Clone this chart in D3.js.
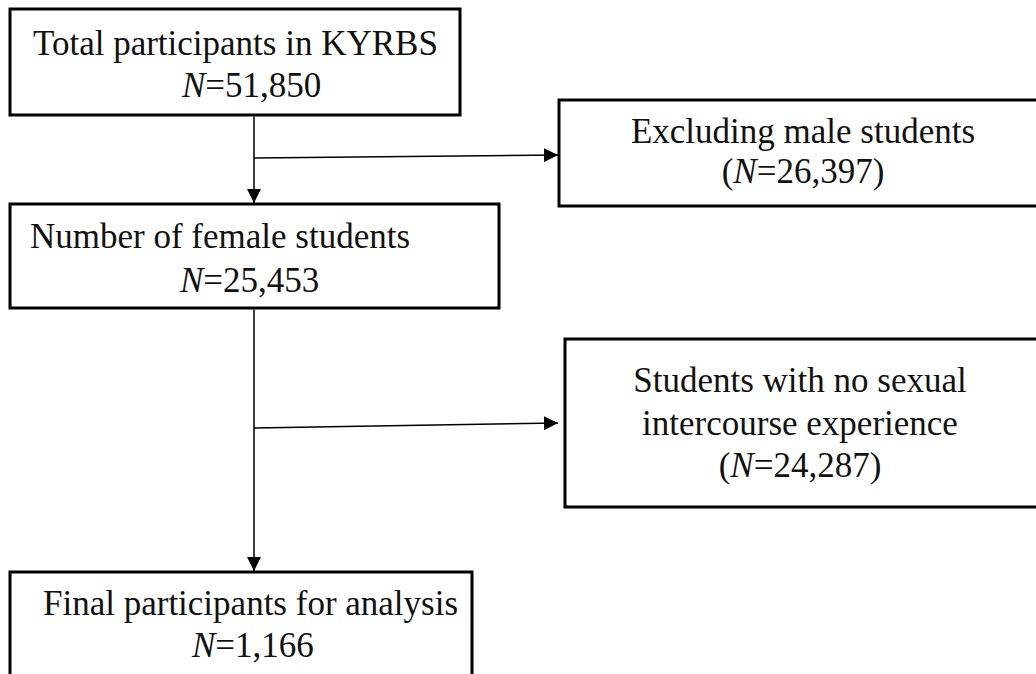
<!DOCTYPE html>
<html>
<head>
<meta charset="utf-8">
<script src="https://cdn.jsdelivr.net/npm/d3@7"></script>
<style>
  html, body { margin: 0; padding: 0; background: #fff; }
  svg { display: block; }
  text { font-family: "Liberation Serif", "Times New Roman", serif; font-size: 35px; fill: #111; }
</style>
</head>
<body>
<svg id="flow" width="1036" height="674"></svg>
<script>
// flow stages (left column)
const stageLabels = [
  'Total participants in KYRBS',
  'Number of female students',
  'Final participants for analysis',
];
const stageCounts = [51850, 25453, 1166];

// exclusions (right column)
const exclusionLabels = [
  ['Excluding male students'],
  ['Students with no sexual', 'intercourse experience'],
];
const exclusionCounts = [26397, 24287];

const fmt = d3.format(',');

// layout of the boxes, kept apart from the values
const stageBoxes = [
  {x: 10, y: 9, w: 450, h: 106, line1: 33, line2: 182, base1: 55, base2: 97},
  {x: 10, y: 204, w: 489, h: 104, line1: 30, line2: 180, base1: 248, base2: 292},
  {x: 10, y: 572, w: 462, h: 120, line1: 43, line2: 192, base1: 615, base2: 657},
];
const exclusionBoxes = [
  {x: 559, y: 100, w: 490, h: 106, cx: 803, base: 143, lineGap: 40},
  {x: 565, y: 339, w: 490, h: 168, cx: 800, base: 392, lineGap: 42.5},
];
const trunkX = 254;
// horizontal branches are a little slanted in the original
const branchY = [[158, 155], [428, 423]];

const svg = d3.select('#flow');

const defs = svg.append('defs');
defs.append('marker')
  .attr('id', 'head')
  .attr('viewBox', '0 0 14 14')
  .attr('refX', 14)
  .attr('refY', 7)
  .attr('markerWidth', 14)
  .attr('markerHeight', 14)
  .attr('markerUnits', 'userSpaceOnUse')
  .attr('orient', 'auto')
  .append('path')
  .attr('d', 'M0,0 L14,7 L0,14 Z')
  .attr('fill', '#000');

// stage boxes
const stages = svg.selectAll('.stage')
  .data(stageLabels.map((label, i) => ({label, n: stageCounts[i], box: stageBoxes[i]})))
  .join('g')
  .attr('class', 'stage');

stages.append('rect')
  .attr('x', (d) => d.box.x)
  .attr('y', (d) => d.box.y)
  .attr('width', (d) => d.box.w)
  .attr('height', (d) => d.box.h)
  .attr('fill', '#fff')
  .attr('stroke', '#000')
  .attr('stroke-width', 3);

stages.append('text')
  .attr('x', (d) => d.box.line1)
  .attr('y', (d) => d.box.base1)
  .text((d) => d.label);

const nLine = stages.append('text')
  .attr('x', (d) => d.box.line2)
  .attr('y', (d) => d.box.base2);
nLine.append('tspan').attr('font-style', 'italic').text('N');
nLine.append('tspan').text((d) => '=' + fmt(d.n));

// exclusion boxes
const exclusions = svg.selectAll('.exclusion')
  .data(exclusionLabels.map((lines, i) => ({lines, n: exclusionCounts[i], box: exclusionBoxes[i]})))
  .join('g')
  .attr('class', 'exclusion');

exclusions.append('rect')
  .attr('x', (d) => d.box.x)
  .attr('y', (d) => d.box.y)
  .attr('width', (d) => d.box.w)
  .attr('height', (d) => d.box.h)
  .attr('fill', '#fff')
  .attr('stroke', '#000')
  .attr('stroke-width', 3);

exclusions.each(function (d) {
  const g = d3.select(this);
  d.lines.forEach((line, j) => {
    g.append('text')
      .attr('x', d.box.cx)
      .attr('y', d.box.base + j * d.box.lineGap)
      .attr('text-anchor', 'middle')
      .text(line);
  });
  const t = g.append('text')
    .attr('x', d.box.cx)
    .attr('y', d.box.base + d.lines.length * d.box.lineGap)
    .attr('text-anchor', 'middle');
  t.append('tspan').text('(');
  t.append('tspan').attr('font-style', 'italic').text('N');
  t.append('tspan').text('=' + fmt(d.n) + ')');
});

// vertical connectors between stages
const links = svg.append('g').attr('class', 'links');
for (let i = 0; i < stageBoxes.length - 1; i++) {
  const a = stageBoxes[i];
  const b = stageBoxes[i + 1];
  links.append('line')
    .attr('x1', trunkX)
    .attr('y1', a.y + a.h + 1.5)
    .attr('x2', trunkX)
    .attr('y2', b.y - 1)
    .attr('stroke', '#000')
    .attr('stroke-width', 1.5)
    .attr('marker-end', 'url(#head)');
}

// branches to the exclusion boxes
exclusionBoxes.forEach((box, i) => {
  links.append('line')
    .attr('x1', trunkX)
    .attr('y1', branchY[i][0])
    .attr('x2', 558)
    .attr('y2', branchY[i][1])
    .attr('stroke', '#000')
    .attr('stroke-width', 1.5)
    .attr('marker-end', 'url(#head)');
});
</script>
</body>
</html>
